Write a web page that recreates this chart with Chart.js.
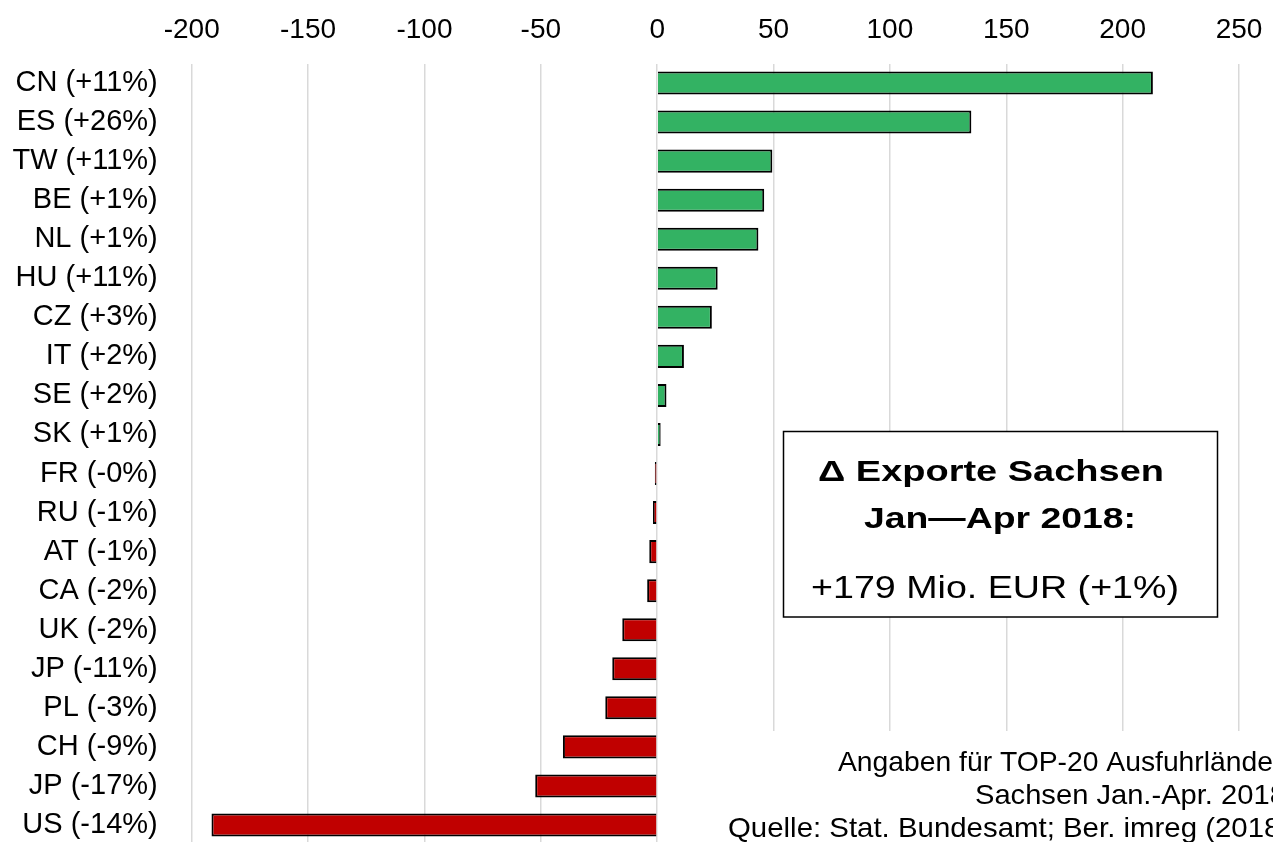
<!DOCTYPE html>
<html>
<head>
<meta charset="utf-8">
<script src="https://cdn.jsdelivr.net/npm/chart.js@4/dist/chart.umd.min.js"></script>
<style>
  html, body { margin: 0; padding: 0; background: #fff; overflow: hidden; }
  #wrap { width: 1273px; height: 842px; overflow: hidden; }
</style>
</head>
<body>
<div id="wrap"><canvas id="chart" width="1273" height="850"></canvas></div>
<script>
// Länder und Veränderung ggü. Vorjahr (in %)
const countries = ["CN", "ES", "TW", "BE", "NL", "HU", "CZ", "IT", "SE", "SK",
                   "FR", "RU", "AT", "CA", "UK", "JP", "PL", "CH", "JP", "US"];
const changePct = ["+11%", "+26%", "+11%", "+1%", "+1%", "+11%", "+3%", "+2%", "+2%", "+1%",
                   "-0%", "-1%", "-1%", "-2%", "-2%", "-11%", "-3%", "-9%", "-17%", "-14%"];
// Veränderung der Exporte in Mio. EUR
const deltaMio = [213, 135, 49.5, 46, 43.5, 26, 23.5, 11.5, 4, 1.5,
                  -1, -1.8, -3.4, -4.3, -15, -19.3, -22.3, -40.5, -52.4, -191.5];
const axisMin = -200, axisMax = 250, axisStep = 50;

const boxLines = ["\u0394 Exporte Sachsen", "Jan\u2014Apr 2018:", "+179 Mio. EUR (+1%)"];
const noteLines = ["Angaben für TOP-20 Ausfuhrländer",
                   "Sachsen Jan.-Apr. 2018",
                   "Quelle: Stat. Bundesamt; Ber. imreg (2018)"];

const labels = countries.map((c, i) => `${c} (${changePct[i]})`);
const FONT = '"Liberation Sans", Arial, sans-serif';

// Text mit horizontaler Streckung zeichnen
function drawStretched(ctx, text, x, y, sx) {
  ctx.save();
  ctx.translate(x, y);
  ctx.scale(sx, 1);
  ctx.fillText(text, 0, 0);
  ctx.restore();
}

// Textbox und Quellenangabe
const overlayPlugin = {
  id: "overlay",
  afterDraw(chart) {
    const ctx = chart.ctx;
    ctx.save();

    // Quellenangabe unten rechts
    ctx.fillStyle = "#fff";
    ctx.fillRect(720, 731, 560, 130);
    ctx.fillStyle = "#000";
    ctx.font = "28px " + FONT;
    ctx.textAlign = "left";
    ctx.textBaseline = "alphabetic";
    const notePos = [
      { x: 838, y: 771, sx: 1.01 },
      { x: 975, y: 803.5, sx: 1.04 },
      { x: 728, y: 836.5, sx: 1.05 }
    ];
    noteLines.forEach((t, i) => drawStretched(ctx, t, notePos[i].x, notePos[i].y, notePos[i].sx));

    // Kasten
    ctx.fillStyle = "#fff";
    ctx.fillRect(783, 431, 435, 186);
    ctx.strokeStyle = "#000";
    ctx.lineWidth = 1.5;
    ctx.strokeRect(783.5, 431.5, 434, 185.5);

    const styles = [
      { font: "bold 30px " + FONT, y: 481, cx: 991, w: 346 },
      { font: "bold 30px " + FONT, y: 528, cx: 1000, w: 272 },
      { font: "32px " + FONT, y: 598, cx: 995, w: 368 }
    ];
    ctx.fillStyle = "#000";
    ctx.textAlign = "center";
    boxLines.forEach((t, i) => {
      const s = styles[i];
      ctx.font = s.font;
      const m = ctx.measureText(t).width;
      drawStretched(ctx, t, s.cx, s.y, s.w / m);
    });

    ctx.restore();
  }
};

new Chart(document.getElementById("chart").getContext("2d"), {
  type: "bar",
  data: {
    labels: labels,
    datasets: [{
      data: deltaMio,
      backgroundColor: deltaMio.map(v => v >= 0 ? "#33b263" : "#c00000"),
      borderColor: "#000",
      borderWidth: 2,
      barPercentage: 0.59,
      categoryPercentage: 1
    }]
  },
  options: {
    indexAxis: "y",
    responsive: false,
    animation: false,
    devicePixelRatio: 1,
    layout: { padding: { left: 0, right: 34, top: 0, bottom: 5.5 } },
    plugins: {
      legend: { display: false },
      tooltip: { enabled: false }
    },
    scales: {
      x: {
        position: "top",
        min: axisMin,
        max: axisMax,
        ticks: {
          stepSize: axisStep,
          color: "#000",
          font: { family: FONT, size: 28 },
          padding: 16,
          maxRotation: 0
        },
        grid: { color: "#d9d9d9", lineWidth: 1.5, drawTicks: false },
        border: { display: false },
        afterFit(scale) {
          scale.height = 63.5;
          scale.paddingLeft = 0;
          scale.paddingRight = 0;
        }
      },
      y: {
        ticks: {
          color: "#000",
          font: { family: FONT, size: 29 },
          padding: 34,
          autoSkip: false
        },
        grid: { display: false, drawTicks: false },
        border: { display: false },
        afterFit(scale) {
          scale.width = 191.7;
          scale.paddingTop = 0;
          scale.paddingBottom = 0;
        }
      }
    }
  },
  plugins: [overlayPlugin]
});
</script>
</body>
</html>
